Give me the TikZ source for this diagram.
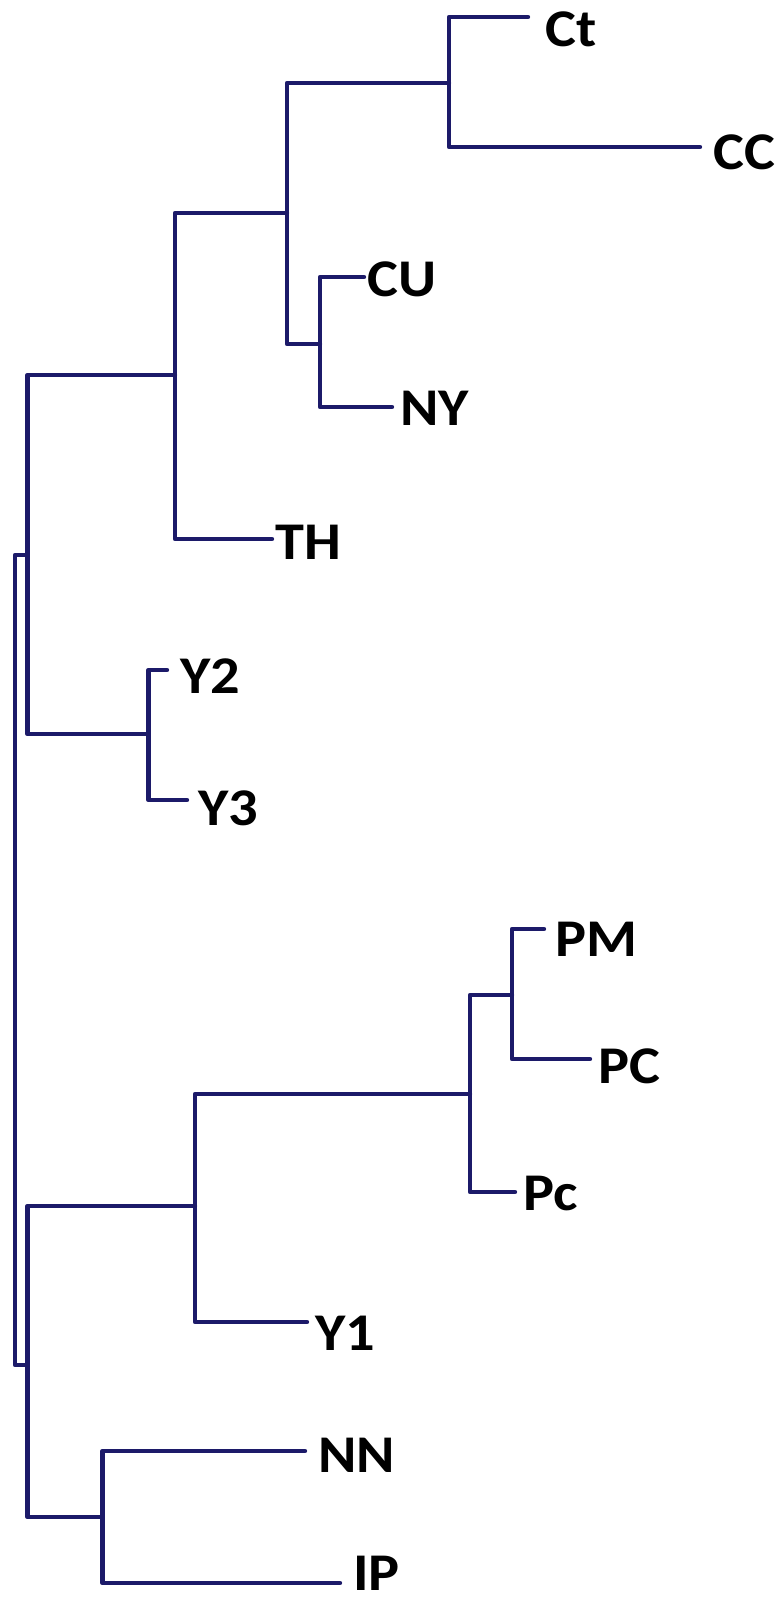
\documentclass[tikz,border=0pt]{standalone}
\usepackage{fontspec}
\setmainfont[FakeStretch=1.1]{Carlito}
\usepackage{tikz}
\usetikzlibrary{calc}
\definecolor{treeblue}{RGB}{28,26,105}
\tikzstyle{branch} = [draw=treeblue, line width=2.2pt, line join=round, line cap=round]
\tikzstyle{leaf} = [anchor=base west, inner sep=0pt, text=black, font=\bfseries\fontsize{26.5}{30}\selectfont]

\begin{document}
\begin{tikzpicture}[x=0.5pt, y=-0.5pt]
    \useasboundingbox (0,0) rectangle (782,1599);
    % 分支点
    \coordinate (root) at (15,960);
    \coordinate (A) at (27.5,555);
    \coordinate (B) at (175,375);
    \coordinate (C) at (287,213);
    \coordinate (D) at (449,83);
    \coordinate (E) at (320,344);
    \coordinate (F) at (148.5,734);
    \coordinate (G) at (27.5,1365);
    \coordinate (H) at (195,1206);
    \coordinate (I) at (470,1094);
    \coordinate (J) at (512,995);
    \coordinate (K) at (102.5,1517);

    % 叶端点
    \coordinate (ct) at (528,17);
    \coordinate (cc) at (700,147);
    \coordinate (cu) at (364,277);
    \coordinate (ny) at (392,407);
    \coordinate (th) at (272,539);
    \coordinate (y2) at (167,670);
    \coordinate (y3) at (187,800);
    \coordinate (pm) at (544,929);
    \coordinate (pC) at (590,1059);
    \coordinate (pc) at (515,1192);
    \coordinate (y1) at (307,1322);
    \coordinate (nn) at (305,1451);
    \coordinate (ip) at (340,1583);

    % 标签
    \node (lCt) [leaf] at (545,47) {Ct};
    \node (lCC) [leaf] at (713,170) {CC};
    \node (lCU) [leaf] at (367,297) {CU};
    \node (lNY) [leaf] at (400,425) {NY};
    \node (lTH) [leaf] at (275,559) {TH};
    \node (lY2) [leaf] at (180,693) {Y2};
    \node (lY3) [leaf] at (198,825) {Y3};
    \node (lPM) [leaf] at (555,956) {PM};
    \node (lPC) [leaf] at (598,1083) {PC};
    \node (lPc) [leaf] at (523,1210) {Pc};
    \node (lY1) [leaf] at (315,1350) {Y1};
    \node (lNN) [leaf] at (318,1472) {NN};
    \node (lIP) [leaf] at (353,1590) {IP};

    % 连线
    \draw [branch] (root) |- (A);
    \draw [branch] (root) |- (G);
    \draw [branch] (A) |- (B);
    \draw [branch] (A) |- (F);
    \draw [branch] (B) |- (C);
    \draw [branch] (B) |- (th);
    \draw [branch] (C) |- (D);
    \draw [branch] (C) |- (E);
    \draw [branch] (D) |- (ct);
    \draw [branch] (D) |- (cc);
    \draw [branch] (E) |- (cu);
    \draw [branch] (E) |- (ny);
    \draw [branch] (F) |- (y2);
    \draw [branch] (F) |- (y3);
    \draw [branch] (G) |- (H);
    \draw [branch] (G) |- (K);
    \draw [branch] (H) |- (I);
    \draw [branch] (H) |- (y1);
    \draw [branch] (I) |- (J);
    \draw [branch] (I) |- (pc);
    \draw [branch] (J) |- (pm);
    \draw [branch] (J) |- (pC);
    \draw [branch] (K) |- (nn);
    \draw [branch] (K) |- (ip);
\end{tikzpicture}
\end{document}
